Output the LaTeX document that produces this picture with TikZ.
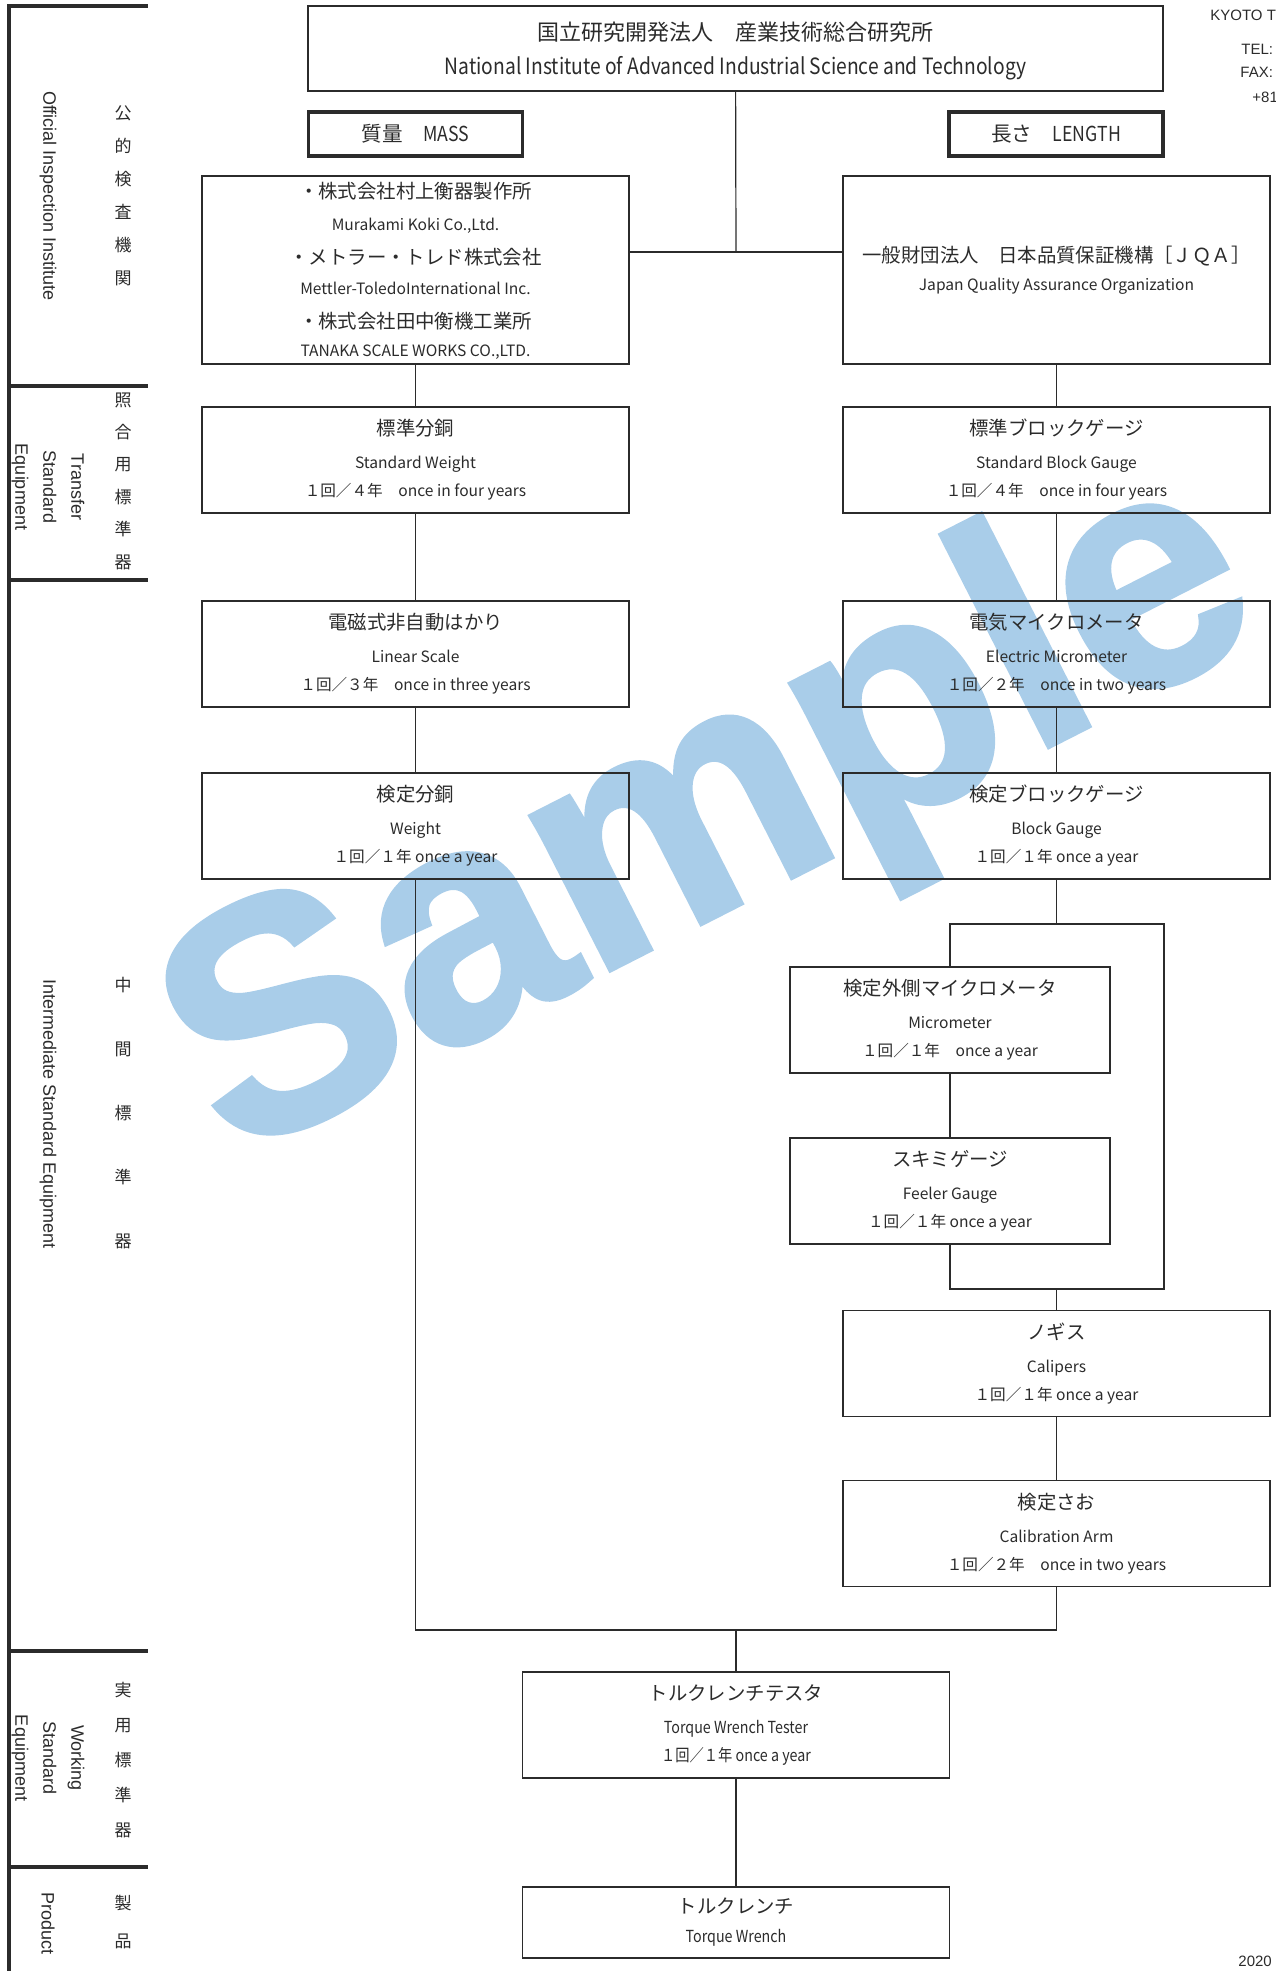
\documentclass[tikz,border=0pt]{standalone}
\usepackage{fontspec}
\setmainfont{Noto Sans CJK JP}
\newfontfamily\narrowfont[FakeStretch=0.86]{Noto Sans CJK JP}
\newfontfamily\arialfont{Liberation Sans}
\newfontfamily\markfont[BoldFeatures={FakeBold=1.5}]{Liberation Sans}
\usetikzlibrary{calc}

\definecolor{ink}{HTML}{2B2B2B}
\definecolor{samplebl}{HTML}{A9CDE9}

\tikzset{
    box/.style={draw=ink, line width=0.7pt, inner sep=0,
        minimum width=213.5pt, minimum height=53pt},
    smallbox/.style={box, minimum width=160pt},
    headbox/.style={draw=ink, line width=1.6pt, inner sep=0, text=ink,
        minimum width=107pt, minimum height=22pt, font=\fontsize{10.3}{12}\selectfont},
    ttl/.style={inner sep=0, text=ink, font=\fontsize{9.7}{11}\selectfont,
        text height=8.5pt, text depth=1.2pt},
    eng/.style={inner sep=0, text=ink, font=\fontsize{7.8}{9}\selectfont,
        text height=6.2pt, text depth=0.9pt},
    link/.style={draw=ink, line width=0.6pt},
    band/.style={draw=ink, line width=1.6pt},
    sidejp/.style={inner sep=0, text=ink, align=center,
        font=\fontsize{8.5}{#1}\selectfont},
    sideen/.style={inner sep=0, text=ink, align=center, rotate=-90,
        font=\arialfont\fontsize{9}{14}\selectfont},
    corner/.style={inner sep=0, text=ink, anchor=west,
        font=\arialfont\fontsize{7.5}{9}\selectfont},
}

% box with title, english name and interval
\newcommand{\calbox}[6]{%
    \node[#2] (#1) at (#3) {};
    \node[ttl] (#1-t) at ([yshift=-11pt]#1.north) {#4};
    \node[eng] (#1-e) at ([yshift=-28.5pt]#1.north) {#5};
    \node[eng] (#1-f) at ([yshift=-42.5pt]#1.north) {#6};}

\begin{document}
\begin{tikzpicture}[x=0.5pt, y=-0.5pt]
    \useasboundingbox (0,0) rectangle (1275,1971);
    \clip (0,0) rectangle (1275,1971);

    \node[rotate=27, inner sep=0, text=samplebl,
        font=\markfont\bfseries\fontsize{164}{164}\selectfont] (mark) at (714,822) {Sample};

    % left band
    \draw[band, line join=miter] (9,1971) -- (9,6) -- (148,6);
    \foreach \y in {386,580,1651,1867}
        \draw[band] (9,\y) -- (148,\y);

    \node[sidejp=16.5pt] (oii-jp) at (123,196) {公\\的\\検\\査\\機\\関};
    \node[sideen] (oii-en) at (48,196) {Official Inspection Institute};
    \node[sidejp=16.2pt] (tse-jp) at (123,481) {照\\合\\用\\標\\準\\器};
    \node[sideen] (tse-en) at (48,487) {Transfer\\Standard\\Equipment};
    \node[sidejp=32pt] (ise-jp) at (123,1113) {中\\間\\標\\準\\器};
    \node[sideen] (ise-en) at (48,1114) {Intermediate Standard Equipment};
    \node[sidejp=17.5pt] (wse-jp) at (123,1760) {実\\用\\標\\準\\器};
    \node[sideen] (wse-en) at (48,1758) {Working\\Standard\\Equipment};
    \node[sidejp=19pt] (prd-jp) at (123,1922) {製\\品};
    \node[sideen] (prd-en) at (48,1923) {Product};

    % corner text
    \node[corner] (co-name) at (1210,15) {KYOTO T};
    \node[corner] (co-tel) at (1241,49) {TEL:};
    \node[corner] (co-fax) at (1240,72) {FAX:};
    \node[corner] (co-num) at (1252,97) {+81};
    \node[corner] (co-date) at (1238,1961) {2020};

    % top
    \node[box, minimum width=427.5pt, minimum height=42.5pt] (aist) at (735.5,48.5) {};
    \node[ttl, font=\fontsize{11}{12}\selectfont] (aist-t) at ([yshift=-14pt]aist.north)
        {国立研究開発法人　産業技術総合研究所};
    \node[eng, font=\narrowfont\fontsize{11.2}{12}\selectfont] (aist-e) at ([yshift=-32pt]aist.north)
        {National Institute of Advanced Industrial Science and Technology};
    \node[headbox] (mass) at (415.5,134) {質量　{\narrowfont MASS}};
    \node[headbox] (length) at (1056,134) {長さ　{\narrowfont LENGTH}};

    \node[box, minimum height=94pt] (makers) at (415.5,270) {};
    \node[ttl] (mk-1) at ([yshift=-8pt]makers.north) {・株式会社村上衡器製作所};
    \node[eng] (mk-2) at ([yshift=-25pt]makers.north) {Murakami Koki Co.,Ltd.};
    \node[ttl] (mk-3) at ([yshift=-41pt]makers.north) {・メトラー・トレド株式会社};
    \node[eng] (mk-4) at ([yshift=-57pt]makers.north) {Mettler-ToledoInternational Inc.};
    \node[ttl] (mk-5) at ([yshift=-73pt]makers.north) {・株式会社田中衡機工業所};
    \node[eng] (mk-6) at ([yshift=-88pt]makers.north) {TANAKA SCALE WORKS CO.,LTD.};

    \node[box, minimum height=94pt] (jqa) at (1056.5,270) {};
    \node[ttl] (jqa-t) at ([yshift=-40pt]jqa.north) {一般財団法人　日本品質保証機構［ＪＱＡ］};
    \node[eng] (jqa-e) at ([yshift=-55pt]jqa.north) {Japan Quality Assurance Organization};

    % mass
    \calbox{sw}{box}{415.5,460}{標準分銅}{Standard Weight}{１回／４年　once in four years}
    \calbox{ls}{box}{415.5,654}{電磁式非自動はかり}{Linear Scale}{１回／３年　once in three years}
    \calbox{wt}{box}{415.5,826}{検定分銅}{Weight}{１回／１年 once a year}

    % length
    \calbox{sbg}{box}{1056.5,460}{標準ブロックゲージ}{Standard Block Gauge}{１回／４年　once in four years}
    \calbox{em}{box}{1056.5,654}{電気マイクロメータ}{Electric Micrometer}{１回／２年　once in two years}
    \calbox{bg}{box}{1056.5,826}{検定ブロックゲージ}{Block Gauge}{１回／１年 once a year}
    \calbox{mic}{smallbox}{950,1020}{検定外側マイクロメータ}{Micrometer}{１回／１年　once a year}
    \calbox{fg}{smallbox}{950,1191}{スキミゲージ}{Feeler Gauge}{１回／１年 once a year}
    \calbox{cal}{box}{1056.5,1363.5}{ノギス}{Calipers}{１回／１年 once a year}
    \calbox{arm}{box}{1056.5,1533.5}{検定さお}{Calibration Arm}{１回／２年　once in two years}

    % working standard and product
    \node[box] (twt) at (736,1725) {};
    \node[ttl] (twt-t) at ([yshift=-11pt]twt.north) {トルクレンチテスタ};
    \node[eng, font=\narrowfont\fontsize{8.3}{9}\selectfont] (twt-e) at ([yshift=-28.5pt]twt.north) {Torque Wrench Tester};
    \node[eng, font=\narrowfont\fontsize{8.3}{9}\selectfont] (twt-f) at ([yshift=-42.5pt]twt.north) {１回／１年 once a year};
    \node[box, minimum height=35.5pt] (tw) at (736,1922.5) {};
    \node[ttl] (tw-t) at ([yshift=-10pt]tw.north) {トルクレンチ};
    \node[eng, font=\narrowfont\fontsize{8.3}{9}\selectfont] (tw-e) at ([yshift=-25.5pt]tw.north) {Torque Wrench};

    % connectors
    \coordinate (j-top) at (736,252);
    \coordinate (j-bot) at (736,1630);
    \coordinate (lp-nw) at (950,924);
    \coordinate (lp-ne) at (1164,924);
    \coordinate (lp-se) at (1164,1289);
    \coordinate (lp-sw) at (950,1289);

    \draw[link] (aist) -- (j-top);
    \draw[link] (makers.east |- j-top) -- (jqa.west |- j-top);
    \draw[link] (makers) -- (sw);
    \draw[link] (sw) -- (ls);
    \draw[link] (ls) -- (wt);
    \draw[link] (wt) |- (arm |- j-bot) -- (arm);
    \draw[link] (jqa) -- (sbg);
    \draw[link] (sbg) -- (em);
    \draw[link] (em) -- (bg);
    \draw[link] (bg) -- (bg |- lp-ne);
    \draw[link] (mic) -- (lp-nw) -- (lp-ne) -- (lp-se) -- (lp-sw) -- (fg);
    \draw[link] (mic) -- (fg);
    \draw[link] (cal |- lp-se) -- (cal);
    \draw[link] (cal) -- (arm);
    \draw[link] (j-bot) -- (twt);
    \draw[link] (twt) -- (tw);
\end{tikzpicture}
\end{document}
